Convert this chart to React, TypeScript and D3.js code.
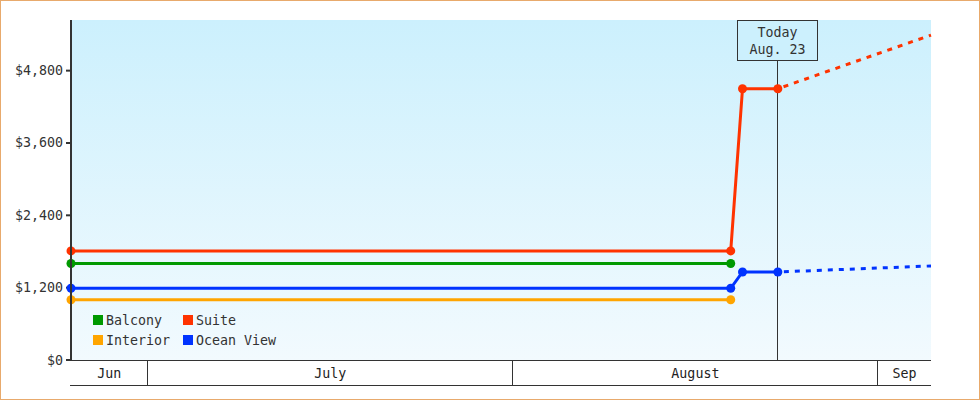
import React from 'react';
import * as d3 from 'd3';

// Cabin fare history with projection past "today".

const day = (m: number, d: number) => new Date(2015, m - 1, d, 12);

const histDates = [day(6, 24), day(8, 19), day(8, 20), day(8, 23)];
const balcony = [1600, 1600];
const interior = [1000, 1000];
const suite = [1810, 1810, 4500, 4500];
const oceanView = [1190, 1190, 1460, 1460];

const projDates = [day(8, 23), day(9, 5)];
const suiteProj = [4500, 5390];
const oceanProj = [1460, 1560];

const yTicks = [0, 1200, 2400, 3600, 4800];
const months = [
  { label: 'Jun', start: day(6, 24), end: new Date(2015, 6, 1) },
  { label: 'July', start: new Date(2015, 6, 1), end: new Date(2015, 7, 1) },
  { label: 'August', start: new Date(2015, 7, 1), end: new Date(2015, 8, 1) },
  { label: 'Sep', start: new Date(2015, 8, 1), end: day(9, 5) },
];
const today = day(8, 23);
const todayLabel = ['Today', 'Aug. 23'];

const W = 980;
const H = 400;
const m = { left: 71, right: 49, top: 20, bottom: 40 };
const FONT = '"DejaVu Sans Mono", monospace';

export default function App() {
  const x = d3.scaleTime().domain([day(6, 24), day(9, 5)]).range([m.left, W - m.right]);
  const y = d3.scaleLinear().domain([0, 5640]).range([H - m.bottom, m.top]);
  const x0 = m.left, x1 = W - m.right, yb = H - m.bottom;

  const series = [
    { name: 'Interior', color: '#ffa500', values: interior },
    { name: 'Balcony', color: '#009900', values: balcony },
    { name: 'Ocean View', color: '#0033ff', values: oceanView, proj: oceanProj },
    { name: 'Suite', color: '#ff3300', values: suite, proj: suiteProj },
  ];
  const line = d3.line<[Date, number]>().x((d) => x(d[0])).y((d) => y(d[1]));

  const legend = [
    { name: 'Balcony', color: '#009900', col: 0, row: 0 },
    { name: 'Suite', color: '#ff3300', col: 1, row: 0 },
    { name: 'Interior', color: '#ffa500', col: 0, row: 1 },
    { name: 'Ocean View', color: '#0033ff', col: 1, row: 1 },
  ];
  const tx = Math.floor(x(today));

  return (
    <div style={{ position: 'absolute', left: 0, top: 0 }}>
      <svg width={W} height={H} style={{ display: 'block' }} fontFamily={FONT} fontSize={13.3}>
        <defs>
          <linearGradient id="bg" x1="0" y1="0" x2="0" y2="1">
            <stop offset="0" stopColor="#ccf0fd" />
            <stop offset="1" stopColor="#f2fafe" />
          </linearGradient>
        </defs>
        <rect x={0.5} y={0.5} width={W - 1} height={H - 1} fill="#fff" stroke="#e8aa6c" />
        <rect x={x0} y={m.top} width={x1 - x0} height={yb - m.top} fill="url(#bg)" />

        {/* y axis */}
        {yTicks.map((t) => (
          <g key={t}>
            <line x1={x0 - 5} x2={x0} y1={y(t)} y2={y(t)} stroke="#333" strokeWidth={2} />
            <text x={x0 - 8} y={y(t) + 4.5} textAnchor="end" fill="#333">
              {'$' + d3.format(',')(t)}
            </text>
          </g>
        ))}

        {/* month band */}
        <line x1={x0 - 1} x2={x1} y1={yb + 0.5} y2={yb + 0.5} stroke="#333" />
        <line x1={x0 - 1} x2={x1} y1={yb + 25.5} y2={yb + 25.5} stroke="#333" />
        {months.map((mo, i) => (
          <g key={mo.label}>
            {i > 0 && (
              <line x1={Math.floor(x(mo.start)) + 0.5} x2={Math.floor(x(mo.start)) + 0.5}
                y1={yb} y2={yb + 25} stroke="#333" />
            )}
            <text x={(x(mo.start) + x(mo.end)) / 2} y={yb + 18} textAnchor="middle" fill="#222">
              {mo.label}
            </text>
          </g>
        ))}

        {/* today marker */}
        <line x1={tx + 0.5} x2={tx + 0.5} y1={60} y2={yb} stroke="#333" />
        <rect x={tx - 40 + 0.5} y={20.5} width={80} height={40} fill="#ccf0fd" stroke="#333" />
        {todayLabel.map((s, i) => (
          <text key={s} x={tx + 0.5} y={37 + i * 17} textAnchor="middle" fill="#333">{s}</text>
        ))}

        {/* projections */}
        {series.filter((s) => s.proj).map((s) => (
          <path key={s.name + 'p'} d={line(projDates.map((d, i) => [d, s.proj![i]]) as [Date, number][]) ?? ''}
            fill="none" stroke={s.color} strokeWidth={3} strokeDasharray="5,6" strokeDashoffset={-6} />
        ))}

        {/* series */}
        {series.map((s) => {
          const pts = s.values.map((v, i) => [histDates[i], v] as [Date, number]);
          return (
            <g key={s.name}>
              <path d={line(pts) ?? ''} fill="none" stroke={s.color} strokeWidth={3} />
              {pts.map((p, i) => (
                <circle key={i} cx={x(p[0])} cy={y(p[1])} r={4.5} fill={s.color} />
              ))}
            </g>
          );
        })}

        <line x1={x0} x2={x0} y1={m.top} y2={yb + 1} stroke="#333" strokeWidth={2} />

        {/* legend */}
        {legend.map((l) => (
          <g key={l.name} transform={`translate(${93 + l.col * 90},${315 + l.row * 20})`}>
            <rect width={10} height={10} fill={l.color} />
            <text x={13} y={10} fill="#333">{l.name}</text>
          </g>
        ))}
      </svg>
    </div>
  );
}
